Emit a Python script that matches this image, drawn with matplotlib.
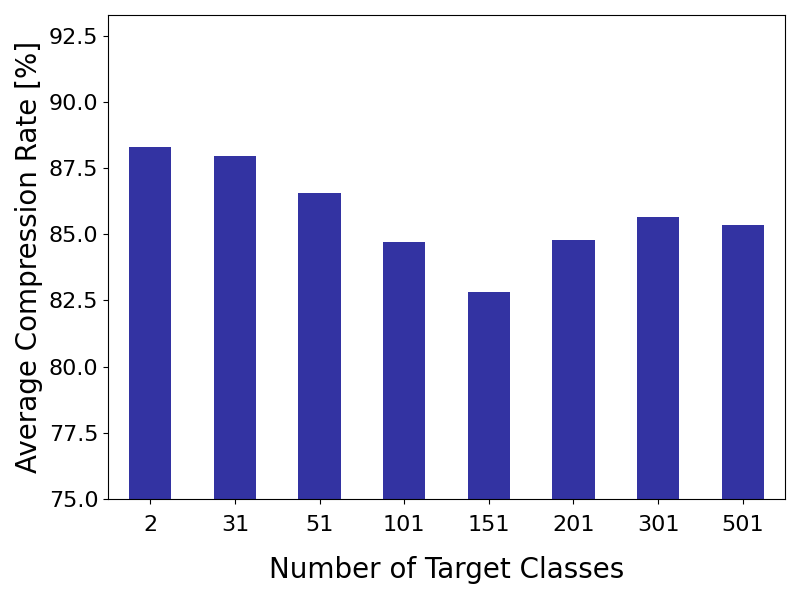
import matplotlib
matplotlib.use("Agg")
import matplotlib.pyplot as plt

categories = ["2", "31", "51", "101", "151", "201", "301", "501"]
values = [88.28, 87.94, 86.55, 84.71, 82.80, 84.79, 85.65, 85.35]

fig = plt.figure(figsize=(8, 6), dpi=100)
ax = fig.add_axes([108/800, 1 - 499/600, (785-108)/800, (499-15)/600])
x = list(range(len(categories)))
ax.bar(x, values, width=0.5, color="darkblue", alpha=0.8)
ax.set_xticks(x)
ax.set_xticklabels(categories)
ax.set_xlim(-0.5, len(categories) - 0.5)
ax.set_ylim(75, max(values) + 5)
ax.tick_params(axis="both", labelsize=16)
ax.tick_params(axis="x", pad=8)
ax.set_xlabel("Number of Target Classes", fontsize=20, labelpad=15)
ax.set_ylabel("Average Compression Rate [%]", fontsize=20)
fig.savefig("out.png", dpi=100)
